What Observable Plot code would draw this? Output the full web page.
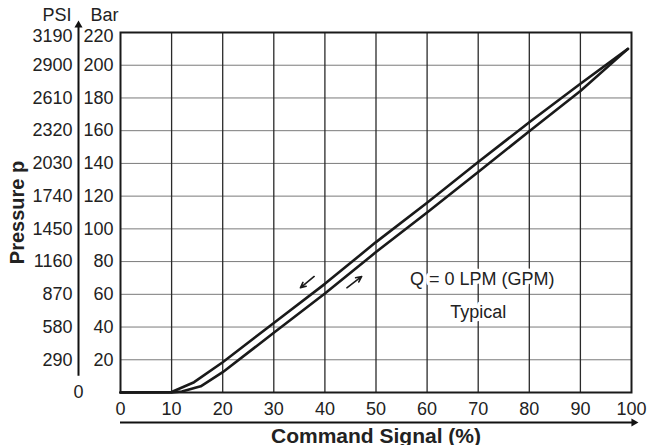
<!DOCTYPE html>
<html>
<head>
<meta charset="utf-8">
<script src="https://cdn.jsdelivr.net/npm/d3@7"></script>
<script src="https://cdn.jsdelivr.net/npm/@observablehq/plot@0.6"></script>
<style>
  html, body { margin: 0; padding: 0; background: #fff; }
</style>
</head>
<body>
<div id="chart"></div>
<script>
// ---- data ----
const xTicks = [0, 10, 20, 30, 40, 50, 60, 70, 80, 90, 100];
const barTicks = [20, 40, 60, 80, 100, 120, 140, 160, 180, 200, 220];
const psiBar = [0, 20, 40, 60, 80, 100, 120, 140, 160, 180, 200, 220];
const psiTicks = [0, 290, 580, 870, 1160, 1450, 1740, 2030, 2320, 2610, 2900, 3190];

// increasing command signal (lower curve)
const signalUp = [0, 10, 12, 15.7, 20, 30, 40, 50, 60, 70, 80, 90, 99.3];
const pressureUp = [0, 0, 0.6, 3.8, 12.4, 36.5, 60.5, 85.8, 110, 134.7, 159.7, 184.2, 210];
// decreasing command signal (upper curve)
const signalDown = [0, 10, 14.4, 20, 30, 40, 50, 60, 70, 80, 90, 99.3];
const pressureDown = [0, 0.3, 6.3, 18.5, 42.5, 66.4, 91.9, 116, 140.8, 165.2, 188.7, 210];

// direction arrows (annotation)
const dirArrows = [
  {x1: 37.9, y1: 70.9, x2: 35.2, y2: 64.0},
  {x1: 44.3, y1: 64.0, x2: 47.2, y2: 70.9}
];
const notes = [
  {x: 70.8, y: 65.4, text: "Q = 0 LPM (GPM)"},
  {x: 70.0, y: 45.8, text: "Typical"}
];
const xTitle = "Command Signal (%)";
const yTitle = "Pressure p";

// ---- derived tables ----
const upRows = signalUp.map((s, i) => ({s, p: pressureUp[i]}));
const downRows = signalDown.map((s, i) => ({s, p: pressureDown[i]}));
const psiRows = psiBar.map((b, i) => ({bar: b, psi: psiTicks[i]}));
const yMax = barTicks[barTicks.length - 1];
const xMax = xTicks[xTicks.length - 1];

const chart = Plot.plot({
  width: 647,
  height: 445,
  marginLeft: 120,
  marginRight: 16,
  marginTop: 32,
  marginBottom: 53,
  style: {fontFamily: "'Liberation Sans', Arial, Helvetica, sans-serif", fontSize: "18px", background: "#fff", color: "#222", overflow: "visible"},
  x: {domain: [0, xMax]},
  y: {domain: [0, yMax], axis: null},
  marks: [
    // grid
    Plot.ruleY(barTicks.filter(v => v < yMax), {stroke: "#7a7a7a", strokeWidth: 1}),
    Plot.ruleX(xTicks.filter(v => v > 0 && v < xMax), {stroke: "#2a2a2a", strokeWidth: 1.3}),
    Plot.frame({stroke: "#1a1a1a", strokeWidth: 2}),
    // x axis
    Plot.axisX({ticks: xTicks, tickSize: 0, tickPadding: 10, label: null, fill: "#222"}),
    // Bar labels
    Plot.text(barTicks.filter(v => v < yMax), {y: d => d, text: d => String(d), frameAnchor: "left", dx: -7, textAnchor: "end", fill: "#222"}),
    Plot.text(barTicks.filter(v => v === yMax), {y: d => d, text: d => String(d), frameAnchor: "left", dx: -7, dy: 3.5, textAnchor: "end", fill: "#222"}),
    // PSI labels
    Plot.text(psiRows.filter(r => r.bar > 0 && r.bar < yMax), {y: "bar", text: d => String(d.psi), frameAnchor: "left", dx: -48, textAnchor: "end", fill: "#222"}),
    Plot.text(psiRows.filter(r => r.bar === yMax), {y: "bar", text: d => String(d.psi), frameAnchor: "left", dx: -48, dy: 3.5, textAnchor: "end", fill: "#222"}),
    Plot.text(psiRows.filter(r => r.bar === 0), {y: "bar", text: d => String(d.psi), frameAnchor: "left", dx: -42, textAnchor: "middle", fill: "#222"}),
    // headers
    Plot.text(["PSI"], {frameAnchor: "top-left", dx: -49, dy: -12, textAnchor: "end", lineAnchor: "bottom", fill: "#222"}),
    Plot.text(["Bar"], {frameAnchor: "top-left", dx: -30, dy: -12, textAnchor: "start", lineAnchor: "bottom", fill: "#222"}),
    // PSI axis line with arrow
    Plot.ruleX([0], {y1: barTicks[0] / 2, y2: yMax + 3, dx: -42, stroke: "#111", strokeWidth: 2}),
    Plot.dot([0], {x: d => d, y: yMax + 4.5, dx: -42, symbol: "triangle", r: 3, fill: "#111", stroke: "none"}),
    // command-signal arrow line
    Plot.ruleY([0], {x1: 0, x2: xMax + 0.4, dy: 30, stroke: "#111", strokeWidth: 2}),
    Plot.dot([0], {x: xMax + 0.45, y: d => d, dy: 30, symbol: "triangle", rotate: 90, r: 3, fill: "#111", stroke: "none"}),
    // titles
    Plot.text([xTitle], {frameAnchor: "bottom", dy: 50, lineAnchor: "bottom", fontWeight: "bold", fontSize: 21, fill: "#222"}),
    Plot.text([yTitle], {frameAnchor: "left", dx: -97, rotate: -90, textAnchor: "middle", lineAnchor: "bottom", fontWeight: "bold", fontSize: 20, fill: "#222"}),
    // curves
    Plot.line(downRows, {x: "s", y: "p", stroke: "#1a1a1a", strokeWidth: 2.6}),
    Plot.line(upRows, {x: "s", y: "p", stroke: "#1a1a1a", strokeWidth: 2.6}),
    // direction arrows
    Plot.arrow(dirArrows, {x1: "x1", y1: "y1", x2: "x2", y2: "y2", stroke: "#1a1a1a", strokeWidth: 1.6, headLength: 7, headAngle: 50}),
    // notes
    Plot.text(notes, {x: "x", y: "y", text: "text", lineAnchor: "bottom", fill: "#222", stroke: "white", strokeWidth: 7})
  ]
});
document.getElementById("chart").appendChild(chart);
</script>
</body>
</html>
